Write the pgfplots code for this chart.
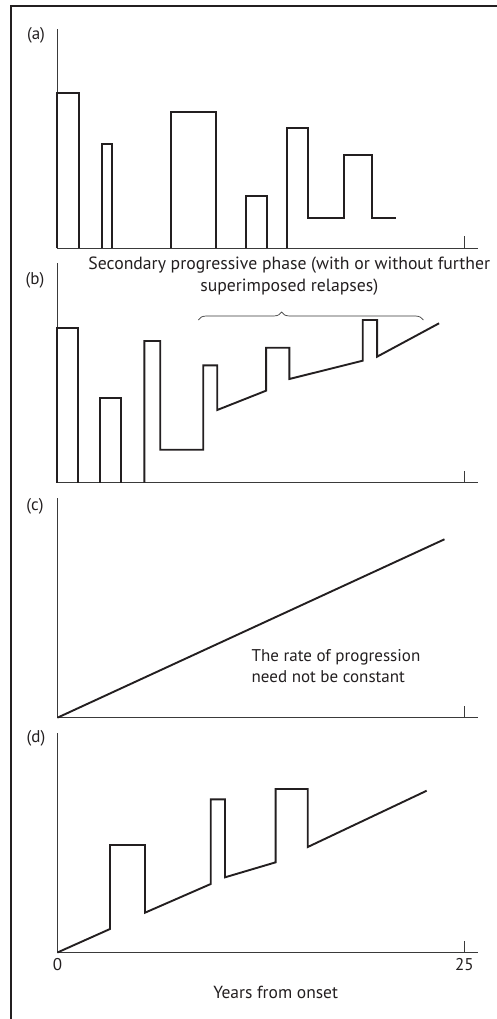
\documentclass[border=0pt]{standalone}
\usepackage{fontspec}
\setmainfont{PT Sans}
\usepackage{pgfplots}
\pgfplotsset{compat=1.18}
\usetikzlibrary{decorations.pathreplacing}
\definecolor{ink}{HTML}{231F20}
\definecolor{axc}{HTML}{3A3A3A}
\tikzset{dl/.style={draw=ink, line width=1.9pt, mark=none, line join=miter}}
\pgfplotsset{
  panel/.style={
    scale only axis, width=420.9pt, height=219.4pt,
    xmin=0, xmax=25.86, ymin=0, ymax=219.4,
    axis x line=bottom, axis y line=left,
    axis line style={-, line width=1.2pt, color=axc},
    ytick=\empty, xtick={25}, xticklabels={},
    tick align=inside, major tick length=12pt,
    tick style={line width=1.1pt, color=axc},
    anchor=south west, clip=false,
    /pgf/number format/assume math mode=true,
    ticklabel style={font=\fontsize{17}{19}\selectfont, text=ink},
    xticklabel style={yshift=-2pt},
  }
}
\begin{document}
\begin{tikzpicture}[x=1pt,y=1pt]
\useasboundingbox (0,0) rectangle (496,-1019);
\draw[line width=1.5pt, ink] (11,-1020) -- (11,-6) -- (497,-6);
\tikzset{plab/.style={font=\fontsize{17}{19}\selectfont, text=ink}}
\node[plab] at (36,-35) {(a)};
\node[plab] at (35,-280) {(b)};
\node[plab] at (35,-506.7) {(c)};
\node[plab] at (36,-738.3) {(d)};
% (a)
\begin{axis}[panel, at={(57.4pt,-248.3pt)}]
\addplot[dl] coordinates {(0,0) (0,155.3) (1.31,155.3) (1.31,0)};
\addplot[dl] coordinates {(2.72,0) (2.72,104.3) (3.37,104.3) (3.37,0)};
\addplot[dl] coordinates {(7.0,0) (7.0,136.3) (9.77,136.3) (9.77,0)};
\addplot[dl] coordinates {(11.57,0) (11.57,52.3) (12.9,52.3) (12.9,0)};
\addplot[dl] coordinates {(14.09,0) (14.09,120.3) (15.4,120.3) (15.4,30) (17.63,30) (17.63,93) (19.33,93) (19.33,30) (20.78,30)};
\end{axis}
% (b)
\begin{axis}[panel, at={(57.4pt,-482.7pt)}]
\addplot[dl] coordinates {(0,0) (0,154.4) (1.28,154.4) (1.28,0)};
\addplot[dl] coordinates {(2.62,0) (2.62,84.4) (3.91,84.4) (3.91,0)};
\addplot[dl] coordinates {(5.34,0) (5.34,141.7) (6.32,141.7) (6.32,33) (8.96,33) (8.96,117.4) (9.82,117.4) (9.82,72.7) (12.82,92) (12.82,135) (14.25,135) (14.25,103.7) (18.76,122) (18.76,162.7) (19.64,162.7) (19.64,126) (23.45,159.4)};
\draw[line width=0.7pt, color=axc, decorate, decoration={brace, amplitude=8pt, aspect=0.37}] (axis cs:8.66,162.7) -- (axis cs:22.48,162.7);
\node[font=\fontsize{17.7}{22}\selectfont, text=ink, align=center] at (axis cs:14.25,206.7) {Secondary progressive phase (with or without further\\superimposed relapses)};
\end{axis}
% (c)
\begin{axis}[panel, at={(57.4pt,-717.7pt)}]
\addplot[dl] coordinates {(0,0) (23.78,178.4)};
\node[font=\fontsize{17}{21}\selectfont, text=ink, align=left, anchor=west] at (axis cs:11.72,51.5) {The rate of progression\\need not be constant};
\end{axis}
% (d)
\begin{axis}[panel, at={(57.4pt,-952.5pt)}, xtick={0,25}, xticklabels={0,25}]
\addplot[dl] coordinates {(0,0) (3.23,23.5) (3.23,107.5) (5.38,107.5) (5.38,39.8) (9.42,68.5) (9.42,153.2) (10.3,153.2) (10.3,75.2) (13.41,90.2) (13.41,163.5) (15.38,163.5) (15.38,105.5) (22.69,161.8)};
\node[font=\fontsize{17.5}{19}\selectfont, text=ink] at (axis cs:13.41,-40.2) {Years from onset};
\end{axis}
\end{tikzpicture}
\end{document}
